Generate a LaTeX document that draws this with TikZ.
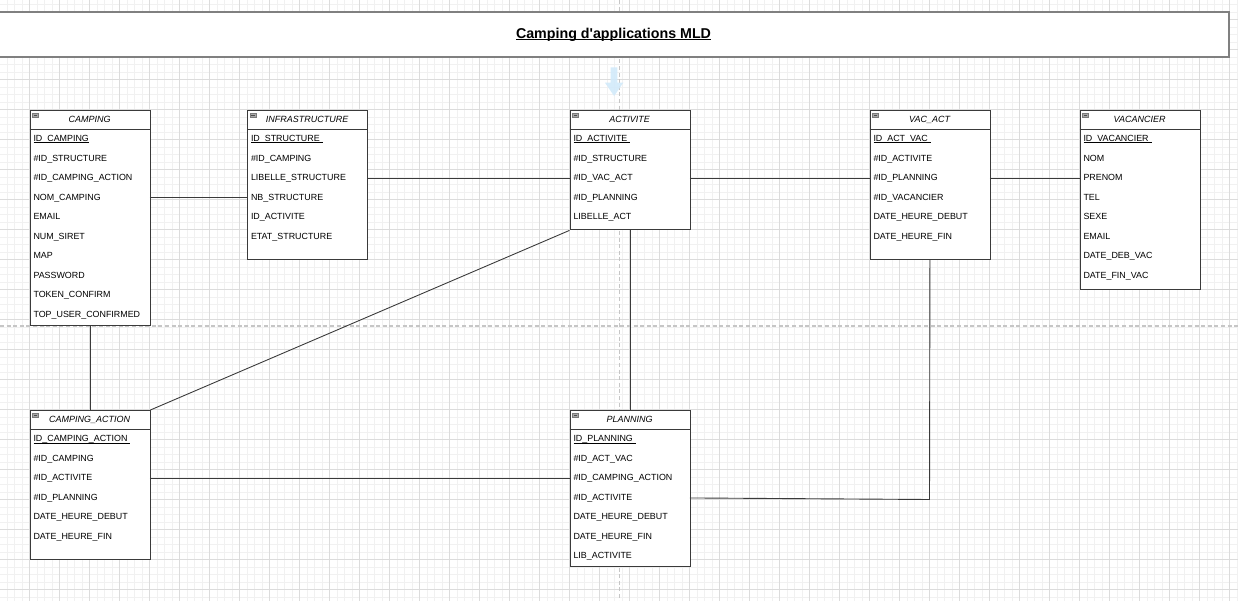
\documentclass[tikz,border=0pt]{standalone}
\usepackage{fontspec}
\setmainfont{Liberation Sans}[Ligatures=TeXOff]
\usetikzlibrary{calc}
\definecolor{gridminor}{HTML}{F1F1F1}
\definecolor{gridmajor}{HTML}{DCDCDC}
\definecolor{pagebreak}{HTML}{C6C6C6}
\definecolor{edgecol}{HTML}{3A3A3A}
\definecolor{titleborder}{HTML}{808080}
\definecolor{hoverblue}{HTML}{D2EAFA}
\definecolor{iconfill}{HTML}{A8A8A8}
\definecolor{icondraw}{HTML}{7A7A7A}

\newsavebox\pkbox
\newcommand\pk[1]{\sbox\pkbox{#1}\usebox\pkbox\llap{\rule[-1.4pt]{\wd\pkbox}{0.65pt}}}
\newcommand\titleul[1]{\sbox\pkbox{#1}\usebox\pkbox\llap{\rule[-2.0pt]{\wd\pkbox}{1.0pt}}}

\tikzset{
  minorline/.style={draw=gridminor, line width=0.8pt},
  majorline/.style={draw=gridmajor, line width=0.8pt},
  pagebreakline/.style={draw=pagebreak, line width=1.2pt, dash pattern=on 4pt off 2.6pt},
  tablebox/.style={draw=edgecol, line width=0.9pt, fill=white, minimum width=120pt, inner sep=0pt},
  headerbox/.style={minimum width=120pt, minimum height=19.5pt, inner sep=0pt,
    text height=6.3pt, text depth=1.7pt, font=\fontsize{9}{10}\selectfont\itshape},
  rowbox/.style={text width=112.4pt, inner xsep=3.8pt, inner ysep=0pt, minimum height=19.5pt,
    text height=6.3pt, text depth=1.7pt, align=left, font=\fontsize{8.9}{10}\selectfont},
  conn/.style={draw=edgecol, line width=0.9pt},
  titlebox/.style={draw=titleborder, line width=1.8pt, fill=white, minimum width=1231pt,
    minimum height=44.4pt, inner sep=0pt, font=\fontsize{14.25}{16}\selectfont\bfseries},
}

% #1 name, #2 x left, #3 y top, #4 title, #5 total height, #6 rows
\newcommand{\erTable}[6]{%
  \node[tablebox, minimum height=#5pt, anchor=north west] (#1) at (#2,#3) {};
  \node[headerbox, anchor=north west] (#1-h) at (#1.north west) {#4};
  \draw[conn] (#1-h.south west) -- (#1-h.south east);
  \filldraw[fill=iconfill, draw=icondraw, line width=0.4pt]
    ($(#1.north west)+(3,3.4)$) rectangle ($(#1.north west)+(8.8,7.4)$);
  \draw[draw=black!70, line width=0.6pt] ($(#1.north west)+(4.2,5.4)$) -- ($(#1.north west)+(7.6,5.4)$);
  \foreach \txt [count=\i] in {#6} {
    \node[rowbox, anchor=north west] (#1-\i) at ($(#1.north west)+(0,{\i*19.5})$) {\txt};
  }
}

\begin{document}
\begin{tikzpicture}[x=1pt, y=-1pt]
\useasboundingbox (0,0) rectangle (1238,601);
\clip (0,0) rectangle (1238,601);
\fill[white] (0,0) rectangle (1238,601);

% grid
\foreach \k in {0,...,166} { \draw[minorline] ({-0.5+\k*7.5},0) -- ({-0.5+\k*7.5},601); }
\foreach \k in {0,...,80} { \draw[minorline] (0,{4.5+\k*7.5}) -- (1238,{4.5+\k*7.5}); }
\foreach \k in {0,...,40} { \draw[majorline] ({29.5+\k*30},0) -- ({29.5+\k*30},601); }
\foreach \k in {0,...,19} { \draw[majorline] (0,{19.5+\k*30}) -- (1238,{19.5+\k*30}); }

% page break lines
\draw[pagebreakline] (619.5,0) -- (619.5,601);
\draw[pagebreakline] (0,326) -- (1238,326);

% title
\node[titlebox] (title) at (613.5,34.5) {\titleul{Camping d'applications MLD}};

% hover arrow
\fill[hoverblue, opacity=0.9] (610.7,67.3) -- (617.3,67.3) -- (617.3,82.7) -- (623.3,82.7)
  -- (614.1,96) -- (605,82.7) -- (610.7,82.7) -- cycle;

% tables
\erTable{camping}{29.5}{110}{CAMPING}{214.5}{\pk{ID\_CAMPING},\#ID\_STRUCTURE,\#ID\_CAMPING\_ACTION,NOM\_CAMPING,EMAIL,NUM\_SIRET,MAP,PASSWORD,TOKEN\_CONFIRM,TOP\_USER\_CONFIRMED}
\erTable{infra}{247}{110}{INFRASTRUCTURE}{149}{\pk{ID\_STRUCTURE\ },\#ID\_CAMPING,LIBELLE\_STRUCTURE,NB\_STRUCTURE,ID\_ACTIVITE,ETAT\_STRUCTURE}
\erTable{activite}{569.5}{110}{ACTIVITE}{119.5}{\pk{ID\_ACTIVITE\ },\#ID\_STRUCTURE,\#ID\_VAC\_ACT,\#ID\_PLANNING,LIBELLE\_ACT}
\erTable{vacact}{869.5}{110}{VAC\_ACT}{149}{\pk{ID\_ACT\_VAC\ },\#ID\_ACTIVITE,\#ID\_PLANNING,\#ID\_VACANCIER,DATE\_HEURE\_DEBUT,DATE\_HEURE\_FIN}
\erTable{vacancier}{1079.5}{110}{VACANCIER}{179.5}{\pk{ID\_VACANCIER\ },NOM,PRENOM,TEL,SEXE,EMAIL,DATE\_DEB\_VAC,DATE\_FIN\_VAC}
\erTable{campaction}{29.5}{410}{CAMPING\_ACTION}{149}{\pk{ID\_CAMPING\_ACTION\ },\#ID\_CAMPING,\#ID\_ACTIVITE,\#ID\_PLANNING,DATE\_HEURE\_DEBUT,DATE\_HEURE\_FIN}
\erTable{planning}{569.5}{410}{PLANNING}{155.5}{\pk{ID\_PLANNING\ },\#ID\_ACT\_VAC,\#ID\_CAMPING\_ACTION,\#ID\_ACTIVITE,DATE\_HEURE\_DEBUT,DATE\_HEURE\_FIN,LIB\_ACTIVITE}

% connectors
\coordinate (bend) at (929.5,499.5);
\draw[conn] (camping-4.east) -- (infra-4.west);
\draw[conn] (infra-3.east) -- (activite-3.west);
\draw[conn] (activite-3.east) -- (vacact-3.west);
\draw[conn] (vacact-3.east) -- (vacancier-3.west);
\draw[conn] (camping.south) -- (campaction.north);
\draw[conn] (activite.south west) -- (campaction.north east);
\draw[conn] (activite.south) -- (planning.north);
\draw[conn] (campaction-3.east) -- (planning-3.west);
\draw[conn] (planning-4.east) -- (bend) -- (vacact.south);
\end{tikzpicture}
\end{document}
